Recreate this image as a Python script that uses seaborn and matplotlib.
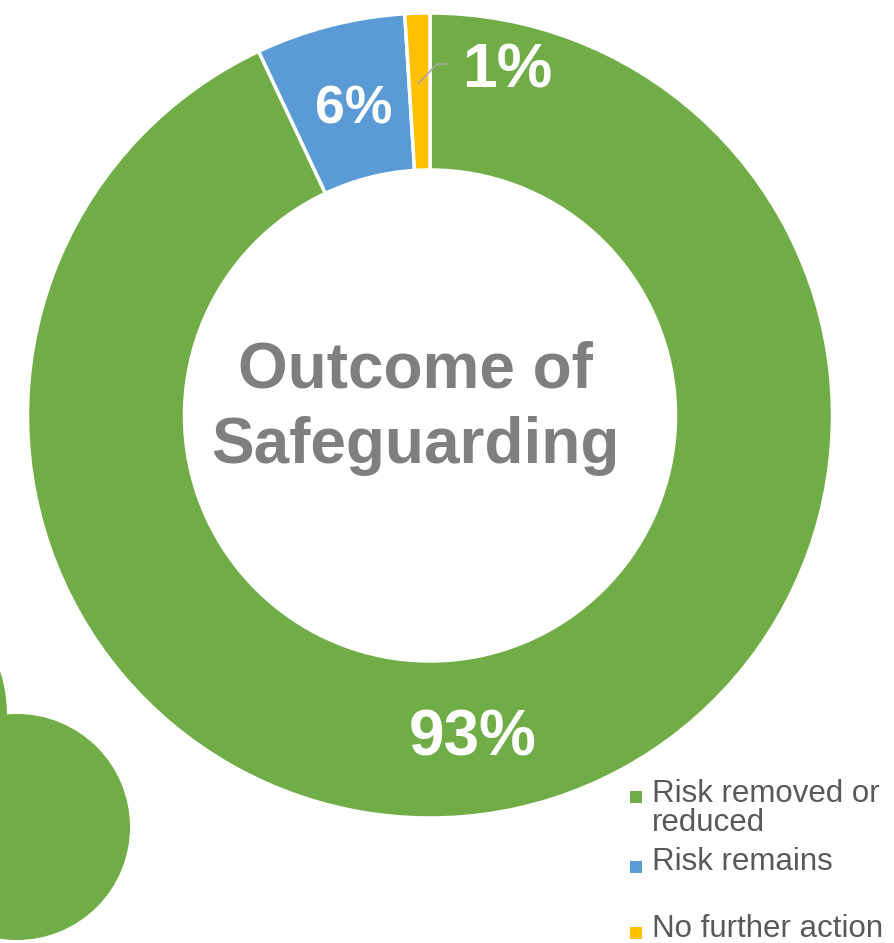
import matplotlib
matplotlib.use("Agg")
import matplotlib.pyplot as plt
from matplotlib.patches import Circle, Rectangle
import seaborn as sns

# Outcome shares (percent)
categories = ["Risk removed or\nreduced", "Risk remains", "No further action"]
shares = [93, 6, 1]
share_labels = ["93%", "6%", "1%"]
colors = ["#70ad47", "#5b9bd5", "#ffc000"]

sns.set_theme(style="white")
plt.rcParams["font.family"] = ["Liberation Sans", "DejaVu Sans"]

W, H = 894, 943
fig = plt.figure(figsize=(W / 100, H / 100), dpi=100)
ax = fig.add_axes([0, 0, 1, 1])

cx, cy, R = 430, H - 415.5, 402.5
ring = 0.39

wedges, _ = ax.pie(
    shares,
    colors=colors,
    startangle=90,
    counterclock=False,
    radius=R,
    center=(cx, cy),
    explode=[0, 0.0075, 0.02],
    wedgeprops=dict(width=R * ring, edgecolor="white", linewidth=2.5),
)

ax.set_xlim(0, W)
ax.set_ylim(0, H)
ax.set_aspect("equal")
ax.axis("off")

# decorative shapes in the lower-left corner
ax.add_patch(Circle((-138, H - 715), 145, color=colors[0], lw=0, zorder=0))
ax.add_patch(Circle((17, H - 827), 113, color=colors[0], lw=0, zorder=1))

# value labels
label_pos = [(473, 756, 46), (354, 124, 38.5), (507, 87, 45)]
for txt, (x, y, fs) in zip(share_labels, label_pos):
    ax.text(x, H - y, txt, color="white", fontsize=fs, fontweight="bold",
            ha="center", va="baseline", zorder=5)

# leader line for the small slice
ax.plot([418, 437, 447], [H - 84, H - 64, H - 64], color="#a6a6a6", lw=1.2,
        solid_capstyle="butt", zorder=4)

# centre title
ax.text(415, H - 388, "Outcome of", color="#7f7f7f", fontsize=46,
        fontweight="bold", ha="center", va="baseline")
ax.text(415, H - 463, "Safeguarding", color="#7f7f7f", fontsize=46,
        fontweight="bold", ha="center", va="baseline")

# legend
legend_rows = [(802, 791), (870, 861), (937, 927)]
for name, col, (base, sq) in zip(categories, colors, legend_rows):
    ax.add_patch(Rectangle((630, H - sq - 11.5), 11.5, 11.5, color=col, lw=0))
    lines = name.split("\n")
    for k, ln in enumerate(lines):
        ax.text(652, H - base - 29 * k, ln, color="#595959", fontsize=22.5,
                ha="left", va="baseline")

fig.savefig("out.png", dpi=100)
